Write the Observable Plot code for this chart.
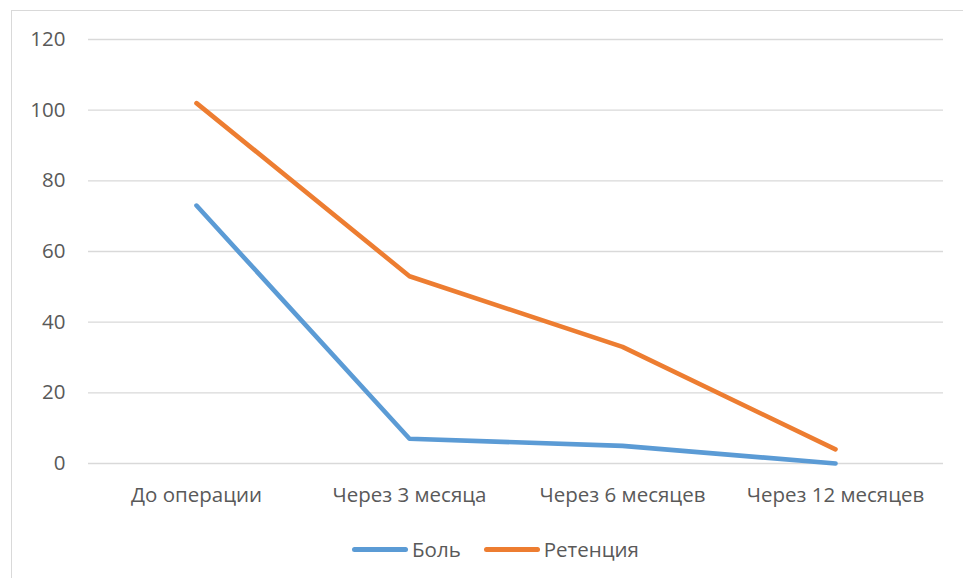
<!DOCTYPE html>
<html>
<head>
<meta charset="utf-8">
<script src="https://cdn.jsdelivr.net/npm/d3@7"></script>
<script src="https://cdn.jsdelivr.net/npm/@observablehq/plot@0.6"></script>
<style>
  html, body { margin: 0; padding: 0; background: #fff; }
  body { width: 963px; height: 578px; overflow: hidden; position: relative; }
  #frame {
    position: absolute; left: 11px; top: 10px; width: 960px; height: 580px;
    border-left: 1.5px solid #D9D9D9; border-top: 1.5px solid #D9D9D9;
    box-sizing: border-box;
  }
  #chart { position: absolute; left: -1.5px; top: -1.5px; }
  #legend {
    position: absolute; left: 2px; top: 510px; width: 963px; height: 56px;
    display: flex; justify-content: center; align-items: center; gap: 23px;
    font-family: "Open Sans", sans-serif; font-size: 20.5px; color: #595959;
  }
  .item { display: flex; align-items: center; }
  .swatch { width: 56px; height: 5px; border-radius: 3px; margin-right: 4px; }
</style>
</head>
<body>
<div id="frame">
  <div id="chart"></div>
  <div id="legend"></div>
</div>
<script>
const categories = ["До операции", "Через 3 месяца", "Через 6 месяцев", "Через 12 месяцев"];
const seriesNames = ["Боль", "Ретенция"];
const pain = [73, 7, 5, 0];
const retention = [102, 53, 33, 4];
const yTicks = [0, 20, 40, 60, 80, 100, 120];
const colors = ["#5B9BD5", "#ED7D31"];

const rows = [
  ...categories.map((c, i) => ({category: c, series: seriesNames[0], value: pain[i]})),
  ...categories.map((c, i) => ({category: c, series: seriesNames[1], value: retention[i]}))
];

const chart = Plot.plot({
  width: 952,
  height: 510,
  marginLeft: 77,
  marginRight: 20,
  marginTop: 29,
  marginBottom: 57,
  style: {fontFamily: "'Open Sans', sans-serif", fontSize: "20.5px", color: "#595959", background: "transparent"},
  x: {type: "point", domain: categories, padding: 0.5, label: null},
  y: {domain: [0, 120], ticks: yTicks, label: null},
  color: {domain: seriesNames, range: colors},
  marks: [
    Plot.ruleY(yTicks, {stroke: "#D9D9D9", strokeWidth: 1.4}),
    Plot.axisY({ticks: yTicks, tickSize: 0, tickPadding: 23, label: null, fill: "#595959"}),
    Plot.axisX({tickSize: 0, tickPadding: 24, label: null, fill: "#595959"}),
    Plot.line(rows, {
      x: "category", y: "value", z: "series", stroke: "series",
      strokeWidth: 4.6, strokeLinecap: "round", strokeLinejoin: "round"
    })
  ]
});
document.getElementById("chart").append(chart);

const legend = document.getElementById("legend");
seriesNames.forEach((name, i) => {
  const item = document.createElement("div");
  item.className = "item";
  const sw = document.createElement("span");
  sw.className = "swatch";
  sw.style.background = colors[i];
  const label = document.createElement("span");
  label.textContent = name;
  item.append(sw, label);
  legend.append(item);
});
</script>
</body>
</html>
